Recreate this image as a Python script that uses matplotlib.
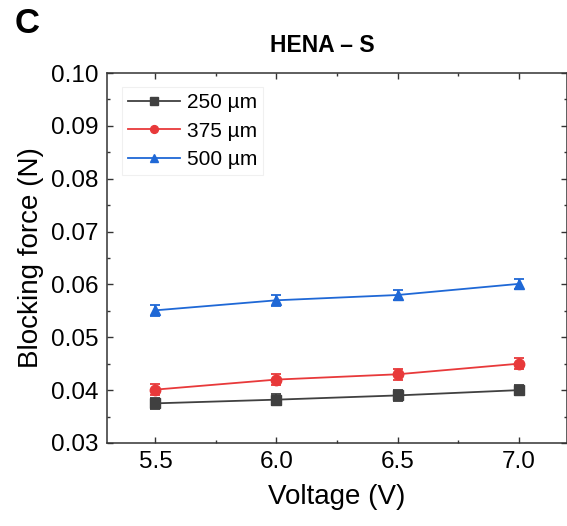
import matplotlib.pyplot as plt
from matplotlib.ticker import MultipleLocator, FormatStrFormatter

plt.rcParams['font.family'] = ['Liberation Sans', 'DejaVu Sans']

voltage = [5.5, 6.0, 6.5, 7.0]
labels = ['250 µm', '375 µm', '500 µm']
force_250 = [0.0375, 0.0382, 0.0390, 0.0400]
force_375 = [0.0401, 0.0420, 0.0430, 0.0450]
force_500 = [0.0551, 0.0570, 0.0580, 0.0601]
err_250 = [0.0010, 0.0010, 0.0010, 0.0010]
err_375 = [0.0010, 0.0010, 0.0010, 0.0010]
err_500 = [0.0010, 0.0010, 0.0010, 0.0010]

colors = ['#404040', '#e8393a', '#1f68d6']
markers = ['s', 'o', '^']

fig = plt.figure(figsize=(5.67, 5.26), dpi=100)
ax = fig.add_axes([0.1887, 0.1578, 0.8113, 0.7034])

for y, e, c, m, lab in zip([force_250, force_375, force_500],
                           [err_250, err_375, err_500],
                           colors, markers, labels):
    ax.errorbar(voltage, y, yerr=e, fmt='none', ecolor=c,
                capsize=3.6, elinewidth=1.3, capthick=1.3)
    ax.plot(voltage, y, color=c, marker=m, markersize=7.5,
            linewidth=1.3, label=lab)

ax.set_xlim(5.3, 7.2)
ax.set_ylim(0.03, 0.10)
ax.xaxis.set_major_locator(MultipleLocator(0.5))
ax.xaxis.set_minor_locator(MultipleLocator(0.25))
ax.yaxis.set_major_locator(MultipleLocator(0.01))
ax.yaxis.set_minor_locator(MultipleLocator(0.005))
ax.xaxis.set_major_formatter(FormatStrFormatter('%.1f'))
ax.yaxis.set_major_formatter(FormatStrFormatter('%.2f'))
ax.tick_params(which='both', direction='in', top=True, right=True,
               labelsize=17.5, color='#333333')
ax.tick_params(axis='x', pad=6)
ax.tick_params(axis='y', pad=6)
ax.tick_params(which='major', length=4.5, width=1)
ax.tick_params(which='minor', length=2.5, width=1)
for s in ax.spines.values():
    s.set_linewidth(1.1)
    s.set_color('#333333')

ax.set_xlabel('Voltage (V)', fontsize=20, labelpad=8)
ax.set_ylabel('Blocking force (N)', fontsize=20, labelpad=5)
fig.text(0.568, 0.914, 'HENA – S', fontsize=16.5, fontweight='bold',
         ha='center', va='center')
fig.text(0.026, 0.956, 'C', fontsize=25, fontweight='bold', va='center')

leg = ax.legend(loc='upper left', bbox_to_anchor=(0.0326, 0.962),
                borderaxespad=0, fontsize=15, handlelength=2.5,
                handletextpad=0.3, labelspacing=0.45, borderpad=0.3,
                markerscale=0.75, fancybox=False, framealpha=1)
leg.get_frame().set_edgecolor('#f0f0f0')
leg.get_frame().set_linewidth(0.8)

fig.savefig('out.png', dpi=100)
